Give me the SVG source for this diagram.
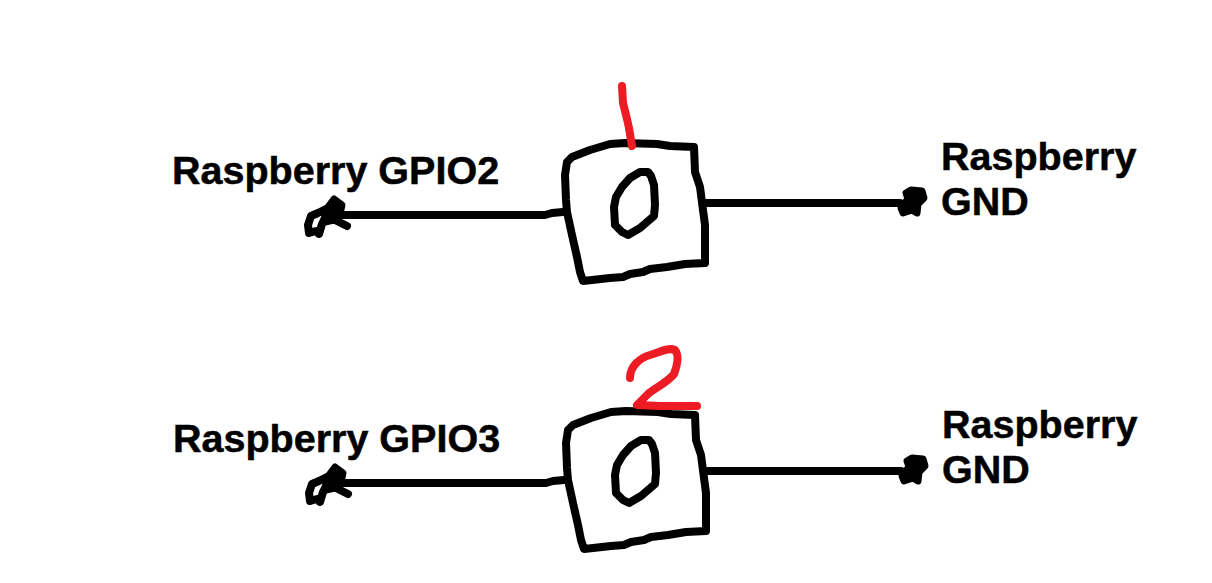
<svg xmlns="http://www.w3.org/2000/svg" width="1212" height="583" viewBox="0 0 1212 583">
<defs>
<style>
.ink{fill:none;stroke:#000;stroke-width:8;stroke-linecap:round;stroke-linejoin:round}
.red{fill:none;stroke:#ed1c24;stroke-width:8;stroke-linecap:round;stroke-linejoin:round}
.blob{fill:#000;stroke:#000;stroke-width:7;stroke-linejoin:round}
.lbl{font-family:"Liberation Sans",Arial,sans-serif;font-weight:700;font-size:39.5px;fill:#000;stroke:#000;stroke-width:.5px}
</style>
<g id="box">
<path class="ink" d="M583 281L610 278L623 277L630 274L643 272L650 269L667 267L685 264L705 263L705 225L703 210L700 187L695 172L694 147L670 146L657 144L625 143L610 144L590 150L572 157L567 162L565 175L566 200L567 212L572 235L577 257L580 272L583 281Z"/>
<path class="ink" d="M648 172L640 172L630 178L622 187L616 197L614 207L615 225L622 232L628 235L640 228L654 216L655 205L654 185L651 176Z"/>
</g>
<g id="wires">
<path class="ink" d="M340 215L545 215L552 213L563 212"/>
<path class="ink" d="M706 203L900 203"/>
<path class="ink" d="M309 233L308 225L311 216L318 213L326 209M319 234L322 224L328 212M309 233L316 231M347 226L335 220"/>
<path class="blob" d="M325 211L334 199L342 205L340 214L334 220L325 222Z"/>
<path class="blob" d="M906 193L911 190L922 191L924 198L918 204L917 213L912 210L903 213L901 208L908 199Z"/>
</g>
</defs>
<g id="connectors">
<use href="#wires"/>
<use href="#wires" x="1" y="268"/>
</g>
<g id="switch-1">
<use href="#box"/>
<path class="red" d="M622 86L623 103L627 119L629 128L632 146"/>
<text class="lbl" x="172" y="184">Raspberry GPIO2</text>
<text class="lbl" x="941" y="170">Raspberry</text>
<text class="lbl" x="941" y="215">GND</text>
</g>
<g id="switch-2">
<use href="#box" x="1" y="268"/>
<path class="red" d="M630 378C630 366 640 358 650 355C660 352 668 347 675 350C680 356 677 366 674 374C668 382 655 388 648 394L637 405L660 406L697 406"/>
<text class="lbl" x="173" y="452">Raspberry GPIO3</text>
<text class="lbl" x="942" y="438">Raspberry</text>
<text class="lbl" x="942" y="483">GND</text>
</g>
</svg>
